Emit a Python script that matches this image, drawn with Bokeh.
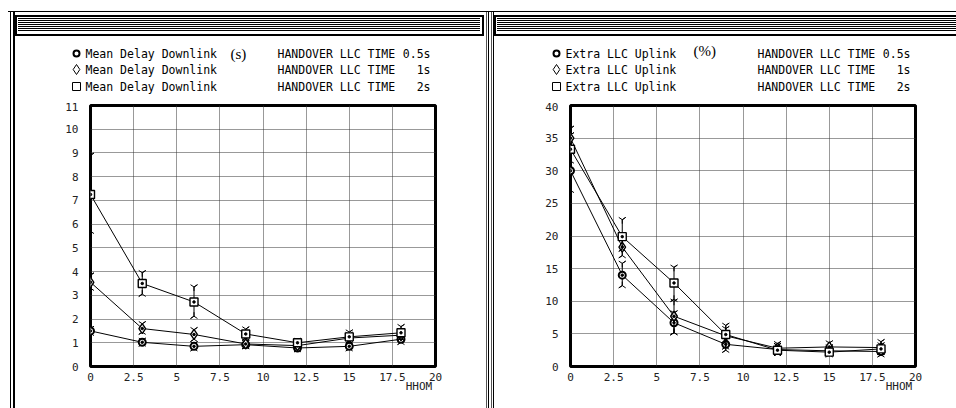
import math
from bokeh.plotting import figure
from bokeh.models import Range1d, FixedTicker
from bokeh.core.properties import value
from bokeh.layouts import row, column
from bokeh.embed import file_html
from bokeh.resources import INLINE

# ---------------- data ----------------
hhom = [0, 3, 6, 9, 12, 15, 18]
x_ticks = [0, 2.5, 5, 7.5, 10, 12.5, 15, 17.5, 20]
x_tick_labels = ["0", "2.5", "5", "7.5", "10", "12.5", "15", "17.5", "20"]
x_axis_label = "HHOM"

ho_label = "HANDOVER LLC TIME"
ho_times = ["0.5s", "1s", "2s"]

# left panel: mean delay downlink (s)
delay_name = "Mean Delay Downlink"
delay_unit = "(s)"
delay_ticks = [0, 1, 2, 3, 4, 5, 6, 7, 8, 9, 10, 11]
delay_05 = [1.50, 1.02, 0.85, 0.92, 0.78, 0.85, 1.15]
delay_05_lo = [1.40, 0.95, 0.75, 0.84, 0.71, 0.75, 1.02]
delay_05_hi = [1.60, 1.10, 0.95, 1.00, 0.85, 0.95, 1.28]
delay_1 = [3.55, 1.60, 1.35, 0.95, 0.88, 1.20, 1.32]
delay_1_lo = [3.30, 1.45, 1.15, 0.85, 0.80, 1.08, 1.18]
delay_1_hi = [3.85, 1.80, 1.55, 1.05, 0.95, 1.35, 1.50]
delay_2 = [7.25, 3.50, 2.72, 1.37, 1.00, 1.25, 1.42]
delay_2_lo = [5.70, 3.05, 2.12, 1.20, 0.90, 1.05, 1.22]
delay_2_hi = [8.90, 3.95, 3.35, 1.58, 1.10, 1.45, 1.68]

# right panel: extra LLC uplink (%)
extra_name = "Extra LLC Uplink"
extra_unit = "(%)"
extra_ticks = [0, 5, 10, 15, 20, 25, 30, 35, 40]
extra_05 = [30.0, 14.0, 6.7, 3.4, 2.6, 2.4, 2.3]
extra_05_lo = [27.0, 12.4, 5.2, 2.5, 2.0, 1.9, 1.8]
extra_05_hi = [32.5, 15.8, 8.2, 4.3, 3.2, 3.0, 2.8]
extra_1 = [35.0, 18.3, 7.7, 4.7, 2.8, 3.0, 2.9]
extra_1_lo = [33.0, 17.0, 5.2, 3.0, 2.2, 2.5, 2.2]
extra_1_hi = [36.5, 19.5, 10.0, 6.3, 3.5, 3.6, 3.8]
extra_2 = [33.3, 19.9, 12.8, 4.9, 2.5, 2.2, 2.7]
extra_2_lo = [31.5, 18.0, 10.3, 3.8, 2.0, 1.8, 2.2]
extra_2_hi = [35.5, 22.5, 15.2, 5.8, 3.2, 2.8, 3.3]

markers = ["circle", "diamond", "square"]
marker_sizes = [7, 10, 8]

MONO = "DejaVu Sans Mono"
NB = "\u00a0"
LEG_H = 102


def make_legend(width, off, name, unit, unit_dx, unit_dy):
    # legend strip: a borderless figure whose ranges are pixels from its top-left
    lg = figure(width=width, height=LEG_H, output_backend="svg", toolbar_location=None,
                x_range=Range1d(0, width), y_range=Range1d(LEG_H, 0),
                x_axis_type=None, y_axis_type=None, min_border=0, frame_align=False)
    lg.grid.visible = False
    lg.outline_line_color = None
    lg.background_fill_color = None
    lg.border_fill_color = None
    rows_y = [53, 69, 86]
    for mk, ms, yy in zip(markers, [6, 10, 8], rows_y):
        lg.scatter([off - 14], [yy], marker=mk, size=ms, line_color="black",
                   line_width=2 if mk == "circle" else 1, fill_color="white")
    txt = dict(text_font=value(MONO), text_font_size=value("11.5px"),
               text_baseline=value("middle"), text_color="black")
    lg.text(x=[off - 5] * 3, y=rows_y, text=[name] * 3, text_align=value("left"), **txt)
    lg.text(x=[off + 187] * 3, y=rows_y, text=[ho_label] * 3, text_align=value("left"), **txt)
    lg.text(x=[off + 340] * 3, y=rows_y, text=ho_times, text_align=value("right"), **txt)
    lg.text(x=[off + unit_dx], y=[unit_dy], text=[unit], text_align=value("left"),
            text_font=value("Liberation Serif"), text_font_size=value("15px"),
            text_baseline=value("middle"), text_color="black")
    return lg


def make_chart(width, left_border, right_border, y_max, y_ticks, series):
    p = figure(width=width, height=408 - LEG_H, output_backend="svg", toolbar_location=None,
               x_range=Range1d(0, 20), y_range=Range1d(0, y_max),
               min_border_left=left_border, min_border_right=right_border,
               min_border_top=3, min_border_bottom=42, frame_align=False)
    p.border_fill_color = None
    p.background_fill_color = "white"
    p.outline_line_color = "black"
    p.outline_line_width = 3

    p.xaxis.ticker = FixedTicker(ticks=x_ticks)
    p.xaxis.major_label_overrides = {t: l for t, l in zip(x_ticks, x_tick_labels)}
    p.yaxis.ticker = FixedTicker(ticks=y_ticks)
    for ax in (p.xaxis[0], p.yaxis[0]):
        ax.axis_line_color = None
        ax.major_tick_line_color = None
        ax.minor_tick_line_color = None
        ax.major_label_text_font = MONO
        ax.major_label_text_font_size = "11px"
        ax.major_label_text_color = "#222222"
    p.yaxis.major_label_standoff = 6
    p.xaxis.major_label_standoff = 0
    p.xaxis.axis_label = x_axis_label + NB * 5
    p.xaxis.axis_label_text_font = MONO
    p.xaxis.axis_label_text_font_size = "11px"
    p.xaxis.axis_label_text_font_style = "normal"
    p.xaxis.axis_label_text_color = "#222222"
    p.xaxis.axis_label_standoff = -4
    p.xaxis.axis_label_align = "end"

    for g in (p.xgrid[0], p.ygrid[0]):
        g.grid_line_color = "#333333"
        g.grid_line_dash = "1 1"
        g.grid_line_width = 1
        g.grid_line_alpha = 1.0
    p.xgrid.ticker = FixedTicker(ticks=x_ticks)
    p.ygrid.ticker = FixedTicker(ticks=y_ticks)

    for (vals, lo, hi), mk, ms in zip(series, markers, marker_sizes):
        p.line(hhom, vals, line_color="black", line_width=1)
        p.segment(x0=hhom, y0=lo, x1=hhom, y1=hi, line_color="black", line_width=1)
        p.scatter(hhom, hi, marker="y", size=8, line_color="black", line_width=1)
        p.scatter(hhom, lo, marker="y", size=8, angle=math.pi, line_color="black", line_width=1)
        p.scatter(hhom, vals, marker=mk, size=ms, line_color="black",
                  line_width=2 if mk == "circle" else 1.4, fill_color="white")
        p.scatter(hhom, vals, marker="circle", size=2.5, line_color="black", fill_color="black")
    return p


left = column(make_legend(488, 90, delay_name, delay_unit, 140, 53),
              make_chart(488, 90, 53, 11, delay_ticks,
                         [(delay_05, delay_05_lo, delay_05_hi),
                          (delay_1, delay_1_lo, delay_1_hi),
                          (delay_2, delay_2_lo, delay_2_hi)]),
              spacing=0)
right = column(make_legend(468, 82, extra_name, extra_unit, 123, 50),
               make_chart(468, 82, 41, 40, extra_ticks,
                          [(extra_05, extra_05_lo, extra_05_hi),
                           (extra_1, extra_1_lo, extra_1_hi),
                           (extra_2, extra_2_lo, extra_2_hi)]),
               spacing=0)

# window chrome (pure CSS background behind the transparent figure borders)
def solid(c, x, y, w, h):
    return f"linear-gradient({c},{c}) {x}px {y}px / {w} {h} no-repeat"

stripes = "repeating-linear-gradient(to bottom,#000 0px,#000 1px,#fff 1px,#fff 2px)"
layers = [
    f"{stripes} 18px 18px / 462px 14px no-repeat",
    f"{stripes} 497px 18px / 460px 14px no-repeat",
    solid("#fff", 17, 17, "465px", "17px"),
    solid("#fff", 496, 17, "460px", "17px"),
    solid("#000", 15, 15, "469px", "21px"),
    solid("#000", 494, 15, "462px", "21px"),
    solid("#000", 8, 11, "100%", "1px"),
    solid("#000", 10, 11, "1px", "100%"),
    solid("#000", 13, 11, "2px", "100%"),
    solid("#555", 486, 11, "1px", "100%"),
    solid("#000", 488, 11, "1px", "100%"),
    solid("#555", 491, 11, "1px", "100%"),
    solid("#000", 493, 11, "1px", "100%"),
]
bg = ", ".join(layers) + ", #ffffff"

layout = row(left, right, spacing=0, styles={"background": bg})

open("out.html", "w").write(file_html(layout, INLINE))
